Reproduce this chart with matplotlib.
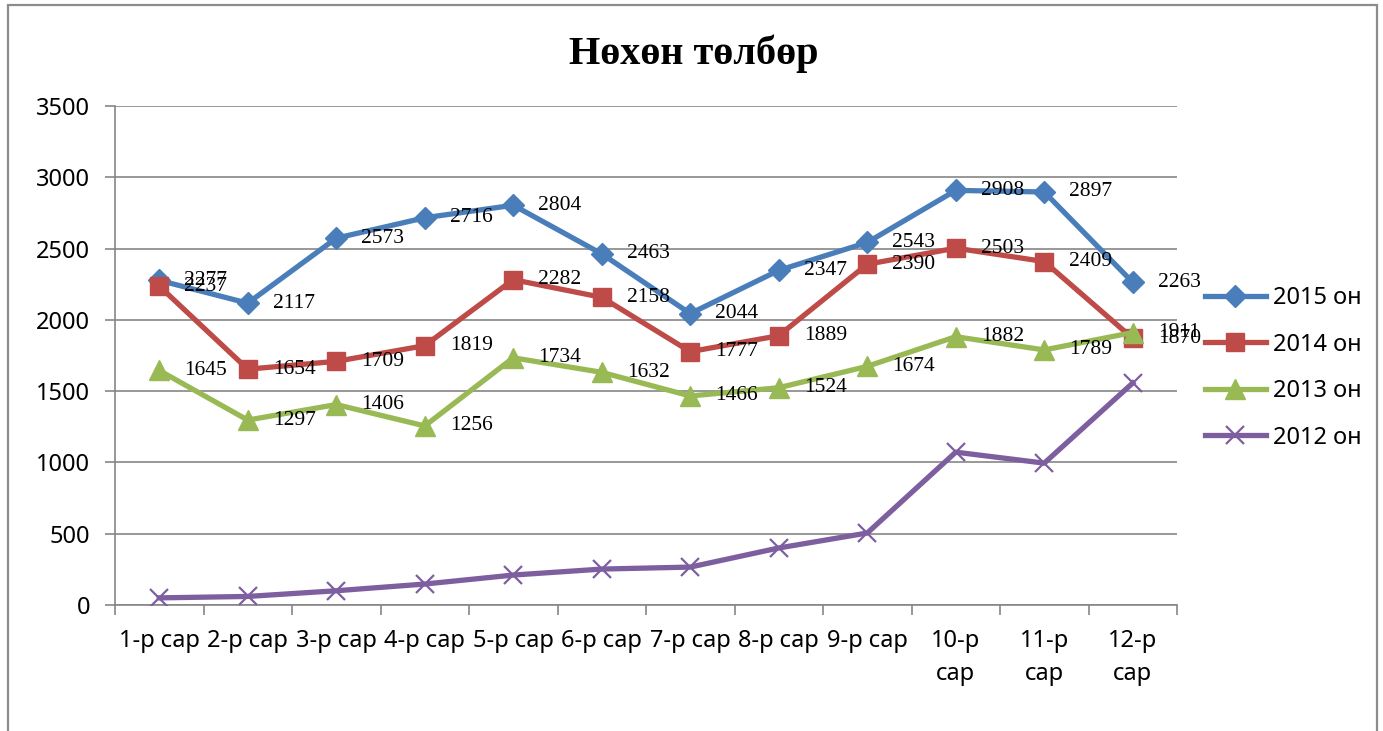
import matplotlib
matplotlib.use("Agg")
import matplotlib.pyplot as plt
from matplotlib.patches import Rectangle
from matplotlib.ticker import FixedLocator, NullFormatter

months = ["1-р сар", "2-р сар", "3-р сар", "4-р сар", "5-р сар", "6-р сар",
          "7-р сар", "8-р сар", "9-р сар", "10-р\nсар", "11-р\nсар", "12-р\nсар"]
y2015 = [2277, 2117, 2573, 2716, 2804, 2463, 2044, 2347, 2543, 2908, 2897, 2263]
y2014 = [2237, 1654, 1709, 1819, 2282, 2158, 1777, 1889, 2390, 2503, 2409, 1870]
y2013 = [1645, 1297, 1406, 1256, 1734, 1632, 1466, 1524, 1674, 1882, 1789, 1911]
y2012 = [50, 60, 100, 147, 210, 252, 266, 400, 505, 1072, 995, 1557]
series_names = ["2015 он", "2014 он", "2013 он", "2012 он"]
yticks = [0, 500, 1000, 1500, 2000, 2500, 3000, 3500]

SANS = ["Noto Sans", "DejaVu Sans"]
SERIF = ["Liberation Serif", "DejaVu Serif"]
GRID = "#868686"

fig = plt.figure(figsize=(13.83, 7.31), dpi=100)
fig.patches.append(Rectangle((8 / 1383, -0.01), 1369 / 1383, 1 - 5 / 731 + 0.01,
                             transform=fig.transFigure, fill=False,
                             edgecolor="#8c8c8c", lw=1.6))
ax = fig.add_axes([115 / 1383, 1 - 605 / 731, 1062 / 1383, 499 / 731])

x = list(range(1, 13))
styles = [
    (y2015, "#4A7EBB", "D", 11, True),
    (y2014, "#BE4B48", "s", 13, True),
    (y2013, "#98B954", "^", 14, True),
    (y2012, "#7D5FA0", "x", 13, False),
]
for (vals, col, mk, ms, lab), name in zip(styles, series_names):
    ax.plot(x, vals, color=col, lw=3.8, marker=mk, ms=ms, mew=1.6 if mk == "x" else 1,
            mec=col, mfc=col, label=name, solid_joinstyle="round", zorder=3)
    if lab:
        for xi, v in zip(x, vals):
            ax.annotate(str(v), (xi, v), xytext=(18, 0), textcoords="offset points",
                        ha="left", va="center", fontsize=15.5, family=SERIF, zorder=4)

ax.set_xlim(0.5, 12.5)
ax.set_ylim(0, 3500)
ax.set_yticks(yticks)
ax.yaxis.grid(True, color=GRID, lw=1.2)
ax.set_axisbelow(True)
ax.set_xticks(x)
ax.set_xticklabels(months, linespacing=1.5)
ax.xaxis.set_minor_locator(FixedLocator([i + 0.5 for i in range(0, 13)]))
ax.xaxis.set_minor_formatter(NullFormatter())
ax.tick_params(axis="x", which="major", length=0, pad=17, labelsize=17)
ax.tick_params(axis="x", which="minor", length=7, width=1.2, color=GRID)
ax.tick_params(axis="y", length=7, width=1.2, color=GRID, pad=11, labelsize=17)
for lbl in ax.get_xticklabels() + ax.get_yticklabels():
    lbl.set_family(SANS)
for side in ("top", "right"):
    ax.spines[side].set_visible(False)
for side in ("left", "bottom"):
    ax.spines[side].set_color(GRID)
    ax.spines[side].set_linewidth(1.2)

fig.text(694 / 1383, 1 - 54 / 731, "Нөхөн төлбөр", ha="center", va="center",
         fontsize=29, fontweight="bold", family=SERIF)

leg = ax.legend(loc="center left", bbox_to_anchor=(1.026, 0.475), frameon=False,
                prop={"family": SANS, "size": 17}, handlelength=2.6,
                labelspacing=0.95, handletextpad=0.3, borderpad=0, borderaxespad=0)

fig.savefig("out.png", dpi=100)
